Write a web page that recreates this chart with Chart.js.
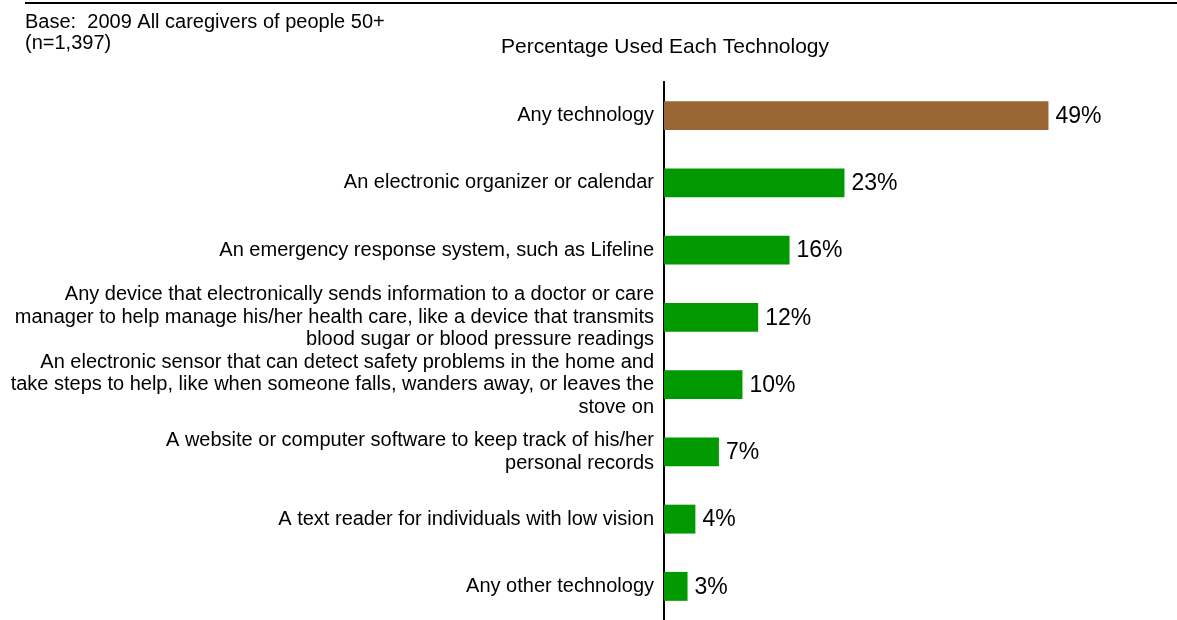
<!DOCTYPE html>
<html>
<head>
<meta charset="utf-8">
<title>Percentage Used Each Technology</title>
<script src="https://cdn.jsdelivr.net/npm/chart.js@4/dist/chart.umd.min.js"></script>
<style>
  html, body { margin: 0; padding: 0; background: #ffffff; }
  #wrap { width: 1177px; height: 620px; position: relative; }
</style>
</head>
<body>
<div id="wrap"><canvas id="chart" width="1177" height="620"></canvas></div>
<script>
// Technology categories (top to bottom)
const categories = [
  "Any technology",
  "An electronic organizer or calendar",
  "An emergency response system, such as Lifeline",
  ["Any device that electronically sends information to a doctor or care",
   "manager to help manage his/her health care, like a device that transmits",
   "blood sugar or blood pressure readings"],
  ["An electronic sensor that can detect safety problems in the home and",
   "take steps to help, like when someone falls, wanders away, or leaves the",
   "stove on"],
  ["A website or computer software to keep track of his/her",
   "personal records"],
  "A text reader for individuals with low vision",
  "Any other technology"
];

// Percentage of caregivers who used each technology
const percentUsed = [49, 23, 16, 12, 10, 7, 4, 3];

// Header texts
const chartTitle = "Percentage Used Each Technology";
const baseNote = ["Base:  2009 All caregivers of people 50+", "(n=1,397)"];

const FONT = "'Liberation Sans', Arial, Helvetica, sans-serif";
const BROWN = "#996633";
const GREEN = "#009900";

// Header rule, base note, title and value labels
const decorations = {
  id: 'decorations',
  afterDraw(chart) {
    const ctx = chart.ctx;
    const area = chart.chartArea;
    ctx.save();
    // rule across the top
    ctx.strokeStyle = '#000';
    ctx.lineWidth = 2;
    ctx.beginPath();
    ctx.moveTo(25, 3);
    ctx.lineTo(chart.width, 3);
    ctx.stroke();

    ctx.fillStyle = '#000';
    ctx.textBaseline = 'middle';
    ctx.font = '20px ' + FONT;
    ctx.textAlign = 'left';
    ctx.fillText(baseNote[0], 25, 22);
    ctx.fillText(baseNote[1], 25, 43.5);

    ctx.font = '21px ' + FONT;
    ctx.textAlign = 'center';
    ctx.fillText(chartTitle, area.left + 1, 47);

    // value labels at the end of each bar
    ctx.font = '23px ' + FONT;
    ctx.textAlign = 'left';
    const meta = chart.getDatasetMeta(0);
    meta.data.forEach((bar, i) => {
      ctx.fillText(percentUsed[i] + '%', bar.x + 7, bar.y + 1);
    });
    ctx.restore();
  }
};

new Chart(document.getElementById('chart'), {
  type: 'bar',
  data: {
    labels: categories,
    datasets: [{
      data: percentUsed,
      backgroundColor: (c) => c.dataIndex === 0 ? BROWN : GREEN,
      borderWidth: 0,
      barPercentage: 0.43,
      categoryPercentage: 1
    }]
  },
  options: {
    indexAxis: 'y',
    responsive: false,
    animation: false,
    devicePixelRatio: 1,
    layout: { padding: { top: 82, right: 3, bottom: 0, left: 0 } },
    plugins: {
      legend: { display: false },
      tooltip: { enabled: false },
      title: { display: false }
    },
    scales: {
      x: {
        display: false,
        min: 0,
        max: 65
      },
      y: {
        grid: { display: false, drawTicks: false },
        border: { display: true, color: '#000', width: 2 },
        ticks: {
          color: '#000',
          padding: 10,
          autoSkip: false,
          font: { family: FONT, size: 20, lineHeight: 1.13 }
        },
        afterFit(scale) {
          scale.width = 664;
          scale.paddingTop = 0;
          scale.paddingBottom = 0;
        }
      }
    }
  },
  plugins: [decorations]
});
</script>
</body>
</html>
